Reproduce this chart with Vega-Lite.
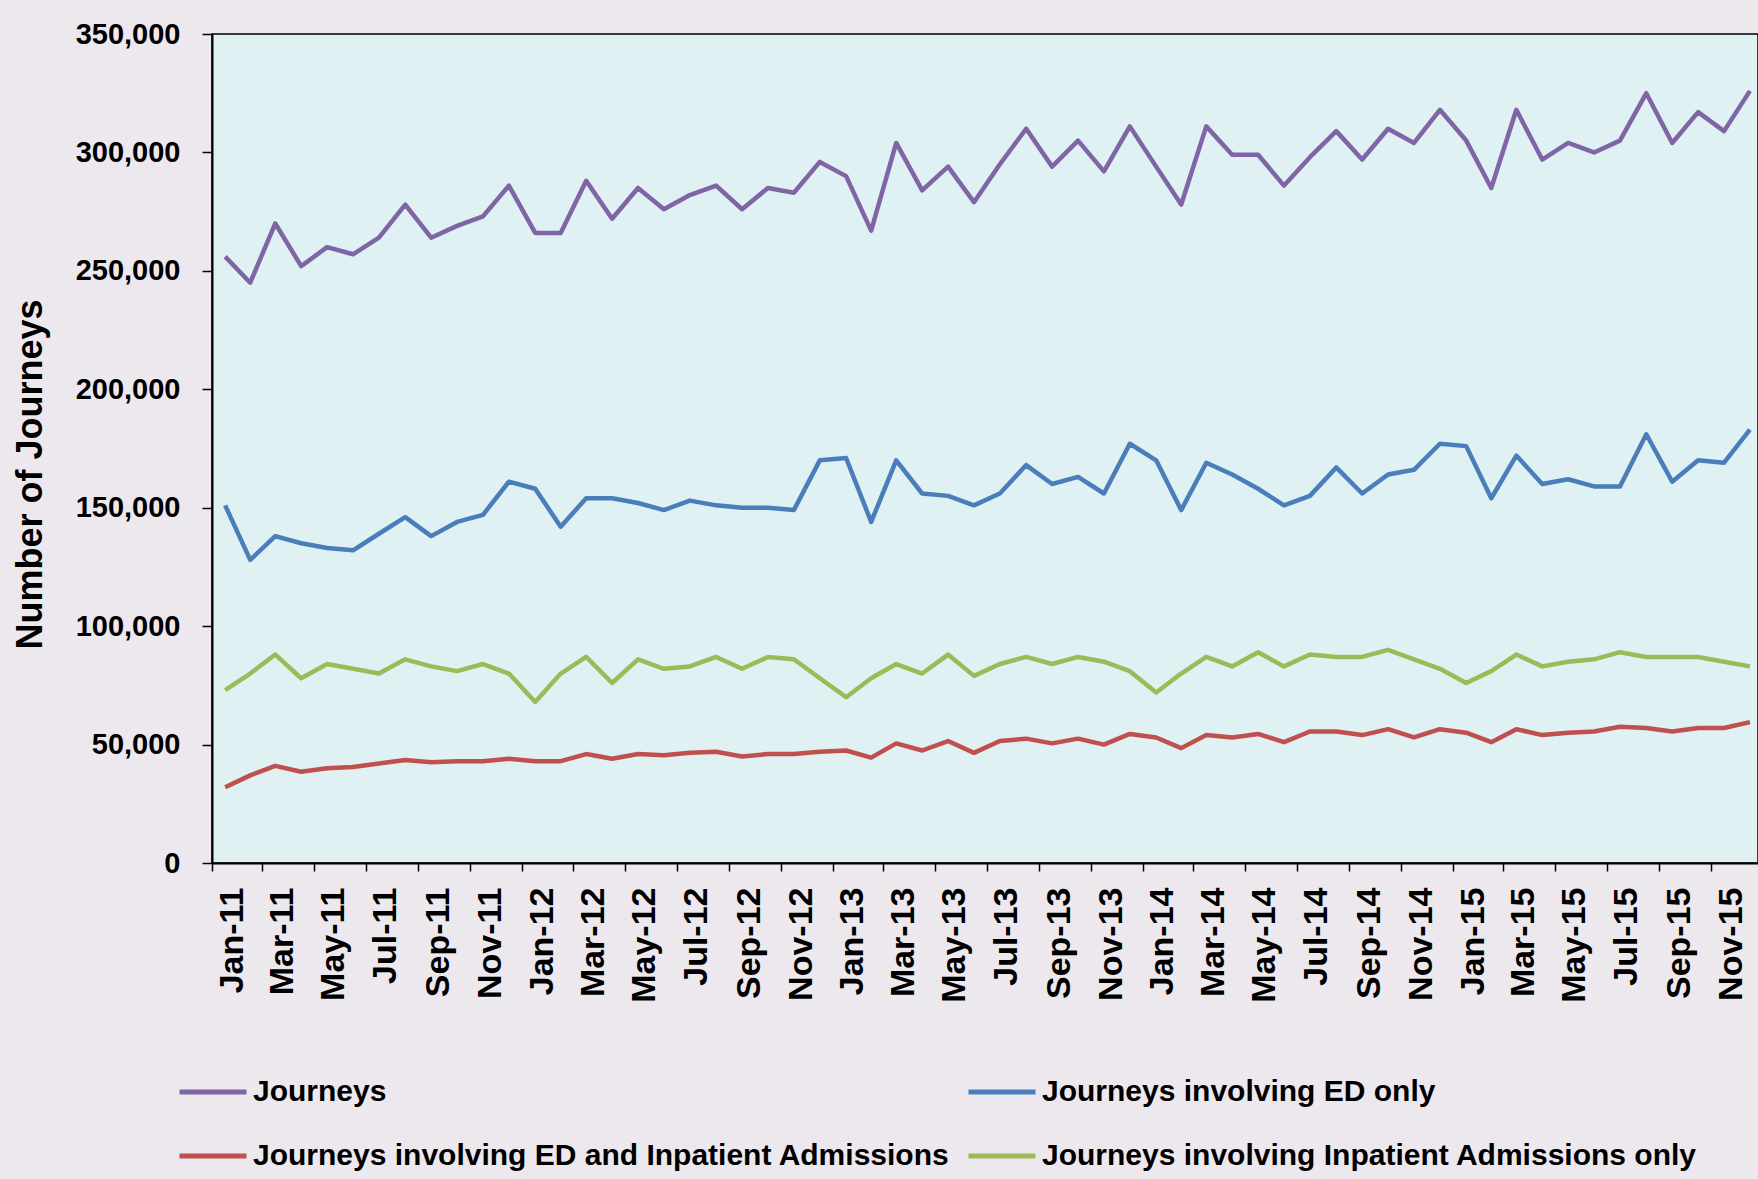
{
  "$schema": "https://vega.github.io/schema/vega-lite/v6.json",
  "autosize": {"type": "none"},
  "width": 1546,
  "height": 829,
  "padding": {"left": 212, "top": 34, "right": 0, "bottom": 316},
  "background": "#EDE8EE",
  "config": {
    "view": {"fill": "#E0F1F3", "stroke": "#000000", "strokeWidth": 1.5},
    "font": "Liberation Sans"
  },
  "data": {
    "values": [
      {"month": "2011-01-01", "Journeys": 256000, "Journeys involving ED only": 151000, "Journeys involving ED and Inpatient Admissions": 32000, "Journeys involving Inpatient Admissions only": 73000},
      {"month": "2011-02-01", "Journeys": 245000, "Journeys involving ED only": 128000, "Journeys involving ED and Inpatient Admissions": 37000, "Journeys involving Inpatient Admissions only": 80000},
      {"month": "2011-03-01", "Journeys": 270000, "Journeys involving ED only": 138000, "Journeys involving ED and Inpatient Admissions": 41000, "Journeys involving Inpatient Admissions only": 88000},
      {"month": "2011-04-01", "Journeys": 252000, "Journeys involving ED only": 135000, "Journeys involving ED and Inpatient Admissions": 38500, "Journeys involving Inpatient Admissions only": 78000},
      {"month": "2011-05-01", "Journeys": 260000, "Journeys involving ED only": 133000, "Journeys involving ED and Inpatient Admissions": 40000, "Journeys involving Inpatient Admissions only": 84000},
      {"month": "2011-06-01", "Journeys": 257000, "Journeys involving ED only": 132000, "Journeys involving ED and Inpatient Admissions": 40500, "Journeys involving Inpatient Admissions only": 82000},
      {"month": "2011-07-01", "Journeys": 264000, "Journeys involving ED only": 139000, "Journeys involving ED and Inpatient Admissions": 42000, "Journeys involving Inpatient Admissions only": 80000},
      {"month": "2011-08-01", "Journeys": 278000, "Journeys involving ED only": 146000, "Journeys involving ED and Inpatient Admissions": 43500, "Journeys involving Inpatient Admissions only": 86000},
      {"month": "2011-09-01", "Journeys": 264000, "Journeys involving ED only": 138000, "Journeys involving ED and Inpatient Admissions": 42500, "Journeys involving Inpatient Admissions only": 83000},
      {"month": "2011-10-01", "Journeys": 269000, "Journeys involving ED only": 144000, "Journeys involving ED and Inpatient Admissions": 43000, "Journeys involving Inpatient Admissions only": 81000},
      {"month": "2011-11-01", "Journeys": 273000, "Journeys involving ED only": 147000, "Journeys involving ED and Inpatient Admissions": 43000, "Journeys involving Inpatient Admissions only": 84000},
      {"month": "2011-12-01", "Journeys": 286000, "Journeys involving ED only": 161000, "Journeys involving ED and Inpatient Admissions": 44000, "Journeys involving Inpatient Admissions only": 80000},
      {"month": "2012-01-01", "Journeys": 266000, "Journeys involving ED only": 158000, "Journeys involving ED and Inpatient Admissions": 43000, "Journeys involving Inpatient Admissions only": 68000},
      {"month": "2012-02-01", "Journeys": 266000, "Journeys involving ED only": 142000, "Journeys involving ED and Inpatient Admissions": 43000, "Journeys involving Inpatient Admissions only": 80000},
      {"month": "2012-03-01", "Journeys": 288000, "Journeys involving ED only": 154000, "Journeys involving ED and Inpatient Admissions": 46000, "Journeys involving Inpatient Admissions only": 87000},
      {"month": "2012-04-01", "Journeys": 272000, "Journeys involving ED only": 154000, "Journeys involving ED and Inpatient Admissions": 44000, "Journeys involving Inpatient Admissions only": 76000},
      {"month": "2012-05-01", "Journeys": 285000, "Journeys involving ED only": 152000, "Journeys involving ED and Inpatient Admissions": 46000, "Journeys involving Inpatient Admissions only": 86000},
      {"month": "2012-06-01", "Journeys": 276000, "Journeys involving ED only": 149000, "Journeys involving ED and Inpatient Admissions": 45500, "Journeys involving Inpatient Admissions only": 82000},
      {"month": "2012-07-01", "Journeys": 282000, "Journeys involving ED only": 153000, "Journeys involving ED and Inpatient Admissions": 46500, "Journeys involving Inpatient Admissions only": 83000},
      {"month": "2012-08-01", "Journeys": 286000, "Journeys involving ED only": 151000, "Journeys involving ED and Inpatient Admissions": 47000, "Journeys involving Inpatient Admissions only": 87000},
      {"month": "2012-09-01", "Journeys": 276000, "Journeys involving ED only": 150000, "Journeys involving ED and Inpatient Admissions": 45000, "Journeys involving Inpatient Admissions only": 82000},
      {"month": "2012-10-01", "Journeys": 285000, "Journeys involving ED only": 150000, "Journeys involving ED and Inpatient Admissions": 46000, "Journeys involving Inpatient Admissions only": 87000},
      {"month": "2012-11-01", "Journeys": 283000, "Journeys involving ED only": 149000, "Journeys involving ED and Inpatient Admissions": 46000, "Journeys involving Inpatient Admissions only": 86000},
      {"month": "2012-12-01", "Journeys": 296000, "Journeys involving ED only": 170000, "Journeys involving ED and Inpatient Admissions": 47000, "Journeys involving Inpatient Admissions only": 78000},
      {"month": "2013-01-01", "Journeys": 290000, "Journeys involving ED only": 171000, "Journeys involving ED and Inpatient Admissions": 47500, "Journeys involving Inpatient Admissions only": 70000},
      {"month": "2013-02-01", "Journeys": 267000, "Journeys involving ED only": 144000, "Journeys involving ED and Inpatient Admissions": 44500, "Journeys involving Inpatient Admissions only": 78000},
      {"month": "2013-03-01", "Journeys": 304000, "Journeys involving ED only": 170000, "Journeys involving ED and Inpatient Admissions": 50500, "Journeys involving Inpatient Admissions only": 84000},
      {"month": "2013-04-01", "Journeys": 284000, "Journeys involving ED only": 156000, "Journeys involving ED and Inpatient Admissions": 47500, "Journeys involving Inpatient Admissions only": 80000},
      {"month": "2013-05-01", "Journeys": 294000, "Journeys involving ED only": 155000, "Journeys involving ED and Inpatient Admissions": 51500, "Journeys involving Inpatient Admissions only": 88000},
      {"month": "2013-06-01", "Journeys": 279000, "Journeys involving ED only": 151000, "Journeys involving ED and Inpatient Admissions": 46500, "Journeys involving Inpatient Admissions only": 79000},
      {"month": "2013-07-01", "Journeys": 295000, "Journeys involving ED only": 156000, "Journeys involving ED and Inpatient Admissions": 51500, "Journeys involving Inpatient Admissions only": 84000},
      {"month": "2013-08-01", "Journeys": 310000, "Journeys involving ED only": 168000, "Journeys involving ED and Inpatient Admissions": 52500, "Journeys involving Inpatient Admissions only": 87000},
      {"month": "2013-09-01", "Journeys": 294000, "Journeys involving ED only": 160000, "Journeys involving ED and Inpatient Admissions": 50500, "Journeys involving Inpatient Admissions only": 84000},
      {"month": "2013-10-01", "Journeys": 305000, "Journeys involving ED only": 163000, "Journeys involving ED and Inpatient Admissions": 52500, "Journeys involving Inpatient Admissions only": 87000},
      {"month": "2013-11-01", "Journeys": 292000, "Journeys involving ED only": 156000, "Journeys involving ED and Inpatient Admissions": 50000, "Journeys involving Inpatient Admissions only": 85000},
      {"month": "2013-12-01", "Journeys": 311000, "Journeys involving ED only": 177000, "Journeys involving ED and Inpatient Admissions": 54500, "Journeys involving Inpatient Admissions only": 81000},
      {"month": "2014-01-01", "Journeys": 294000, "Journeys involving ED only": 170000, "Journeys involving ED and Inpatient Admissions": 53000, "Journeys involving Inpatient Admissions only": 72000},
      {"month": "2014-02-01", "Journeys": 278000, "Journeys involving ED only": 149000, "Journeys involving ED and Inpatient Admissions": 48500, "Journeys involving Inpatient Admissions only": 80000},
      {"month": "2014-03-01", "Journeys": 311000, "Journeys involving ED only": 169000, "Journeys involving ED and Inpatient Admissions": 54000, "Journeys involving Inpatient Admissions only": 87000},
      {"month": "2014-04-01", "Journeys": 299000, "Journeys involving ED only": 164000, "Journeys involving ED and Inpatient Admissions": 53000, "Journeys involving Inpatient Admissions only": 83000},
      {"month": "2014-05-01", "Journeys": 299000, "Journeys involving ED only": 158000, "Journeys involving ED and Inpatient Admissions": 54500, "Journeys involving Inpatient Admissions only": 89000},
      {"month": "2014-06-01", "Journeys": 286000, "Journeys involving ED only": 151000, "Journeys involving ED and Inpatient Admissions": 51000, "Journeys involving Inpatient Admissions only": 83000},
      {"month": "2014-07-01", "Journeys": 298000, "Journeys involving ED only": 155000, "Journeys involving ED and Inpatient Admissions": 55500, "Journeys involving Inpatient Admissions only": 88000},
      {"month": "2014-08-01", "Journeys": 309000, "Journeys involving ED only": 167000, "Journeys involving ED and Inpatient Admissions": 55500, "Journeys involving Inpatient Admissions only": 87000},
      {"month": "2014-09-01", "Journeys": 297000, "Journeys involving ED only": 156000, "Journeys involving ED and Inpatient Admissions": 54000, "Journeys involving Inpatient Admissions only": 87000},
      {"month": "2014-10-01", "Journeys": 310000, "Journeys involving ED only": 164000, "Journeys involving ED and Inpatient Admissions": 56500, "Journeys involving Inpatient Admissions only": 90000},
      {"month": "2014-11-01", "Journeys": 304000, "Journeys involving ED only": 166000, "Journeys involving ED and Inpatient Admissions": 53000, "Journeys involving Inpatient Admissions only": 86000},
      {"month": "2014-12-01", "Journeys": 318000, "Journeys involving ED only": 177000, "Journeys involving ED and Inpatient Admissions": 56500, "Journeys involving Inpatient Admissions only": 82000},
      {"month": "2015-01-01", "Journeys": 305000, "Journeys involving ED only": 176000, "Journeys involving ED and Inpatient Admissions": 55000, "Journeys involving Inpatient Admissions only": 76000},
      {"month": "2015-02-01", "Journeys": 285000, "Journeys involving ED only": 154000, "Journeys involving ED and Inpatient Admissions": 51000, "Journeys involving Inpatient Admissions only": 81000},
      {"month": "2015-03-01", "Journeys": 318000, "Journeys involving ED only": 172000, "Journeys involving ED and Inpatient Admissions": 56500, "Journeys involving Inpatient Admissions only": 88000},
      {"month": "2015-04-01", "Journeys": 297000, "Journeys involving ED only": 160000, "Journeys involving ED and Inpatient Admissions": 54000, "Journeys involving Inpatient Admissions only": 83000},
      {"month": "2015-05-01", "Journeys": 304000, "Journeys involving ED only": 162000, "Journeys involving ED and Inpatient Admissions": 55000, "Journeys involving Inpatient Admissions only": 85000},
      {"month": "2015-06-01", "Journeys": 300000, "Journeys involving ED only": 159000, "Journeys involving ED and Inpatient Admissions": 55500, "Journeys involving Inpatient Admissions only": 86000},
      {"month": "2015-07-01", "Journeys": 305000, "Journeys involving ED only": 159000, "Journeys involving ED and Inpatient Admissions": 57500, "Journeys involving Inpatient Admissions only": 89000},
      {"month": "2015-08-01", "Journeys": 325000, "Journeys involving ED only": 181000, "Journeys involving ED and Inpatient Admissions": 57000, "Journeys involving Inpatient Admissions only": 87000},
      {"month": "2015-09-01", "Journeys": 304000, "Journeys involving ED only": 161000, "Journeys involving ED and Inpatient Admissions": 55500, "Journeys involving Inpatient Admissions only": 87000},
      {"month": "2015-10-01", "Journeys": 317000, "Journeys involving ED only": 170000, "Journeys involving ED and Inpatient Admissions": 57000, "Journeys involving Inpatient Admissions only": 87000},
      {"month": "2015-11-01", "Journeys": 309000, "Journeys involving ED only": 169000, "Journeys involving ED and Inpatient Admissions": 57000, "Journeys involving Inpatient Admissions only": 85000},
      {"month": "2015-12-01", "Journeys": 326000, "Journeys involving ED only": 183000, "Journeys involving ED and Inpatient Admissions": 59500, "Journeys involving Inpatient Admissions only": 83000}
    ]
  },
  "transform": [
    {"fold": ["Journeys", "Journeys involving ED only", "Journeys involving ED and Inpatient Admissions", "Journeys involving Inpatient Admissions only"], "as": ["series", "value"]}
  ],
  "mark": {"type": "line", "strokeWidth": 4.5, "strokeJoin": "round"},
  "encoding": {
    "x": {
      "field": "month",
      "timeUnit": "utcyearmonth",
      "type": "temporal",
      "bandPosition": 0.5,
      "scale": {"domain": [{"year": 2011, "month": 1, "date": 1, "utc": true}, {"year": 2015, "month": 12, "date": 26, "utc": true}]},
      "axis": {
        "title": null,
        "format": "%b-%y",
        "tickCount": {"interval": "month", "step": 2},
        "labelAngle": -90,
        "labelOffset": 20,
        "labelFont": "Liberation Sans",
        "labelFontWeight": "bold",
        "labelFontSize": 34,
        "labelColor": "#000000",
        "labelPadding": 16,
        "labelOverlap": false,
        "labelFlush": false,
        "tickColor": "#000000",
        "tickSize": 8,
        "tickWidth": 1.5,
        "domainColor": "#000000",
        "domainWidth": 2,
        "grid": false
      }
    },
    "y": {
      "field": "value",
      "type": "quantitative",
      "scale": {"domain": [0, 350000], "nice": false},
      "axis": {
        "title": "Number of Journeys",
        "titleFont": "Liberation Sans",
        "titleFontWeight": "bold",
        "titleFontSize": 36,
        "titleColor": "#000000",
        "titleAngle": 270,
        "titleAlign": "center",
        "titleBaseline": "middle",
        "titleX": -182,
        "titleY": 440,
        "values": [0, 50000, 100000, 150000, 200000, 250000, 300000, 350000],
        "format": ",d",
        "labelFont": "Liberation Sans",
        "labelFontWeight": "bold",
        "labelFontSize": 29,
        "labelColor": "#000000",
        "labelPadding": 22,
        "tickColor": "#000000",
        "tickSize": 10,
        "tickWidth": 1.5,
        "domainColor": "#000000",
        "domainWidth": 2,
        "grid": false
      }
    },
    "color": {
      "field": "series",
      "type": "nominal",
      "scale": {
        "domain": ["Journeys", "Journeys involving ED only", "Journeys involving ED and Inpatient Admissions", "Journeys involving Inpatient Admissions only"],
        "range": ["#7F65A6", "#4A7EBB", "#C0504D", "#9BBB59"]
      },
      "legend": {
        "title": null,
        "orient": "none",
        "direction": "horizontal",
        "legendX": -35,
        "legendY": 1022,
        "columns": 2,
        "columnPadding": 8,
        "rowPadding": 13,
        "symbolType": "stroke",
        "symbolSize": 4489,
        "symbolStrokeWidth": 5,
        "labelFont": "Liberation Sans",
        "labelFontWeight": "bold",
        "labelFontSize": 30,
        "labelColor": "#000000",
        "labelOffset": 4,
        "labelLimit": 1200
      }
    }
  }
}
